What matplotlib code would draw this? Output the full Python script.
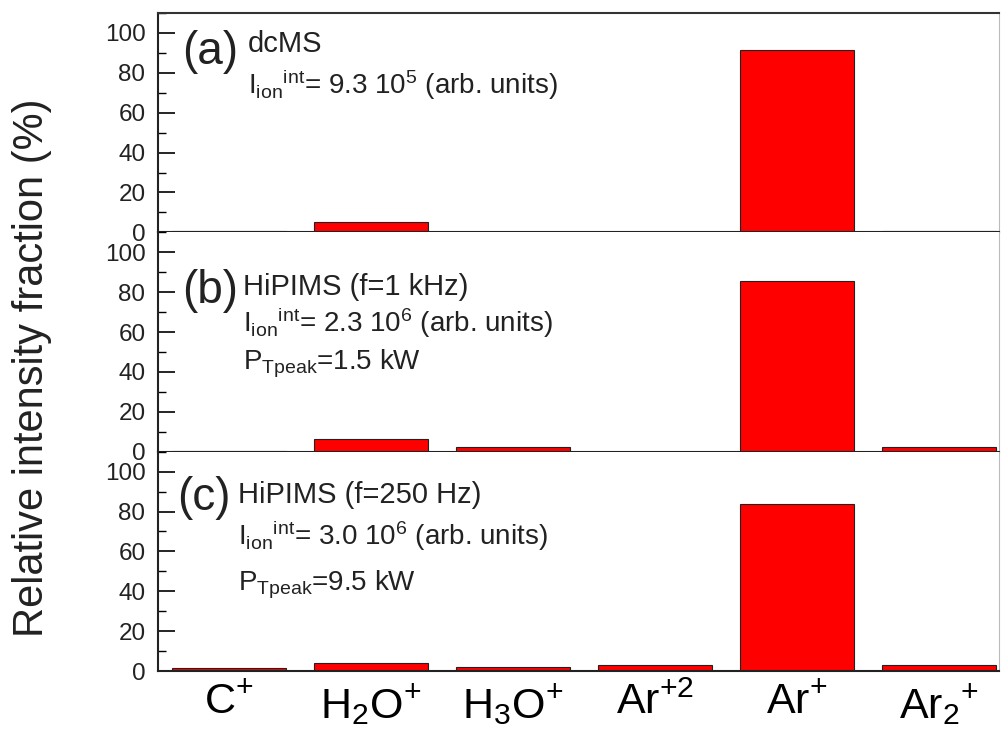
import matplotlib
matplotlib.use("Agg")
import matplotlib.pyplot as plt
from matplotlib.ticker import MultipleLocator

plt.rcParams['font.family'] = ['Liberation Sans', 'DejaVu Sans']
plt.rcParams['mathtext.fontset'] = 'custom'
plt.rcParams['mathtext.rm'] = 'Liberation Sans'
plt.rcParams['mathtext.it'] = 'Liberation Sans:italic'
plt.rcParams['mathtext.bf'] = 'Liberation Sans:bold'

categories = [r'C$^{+}$', r'H$_{2}$O$^{+}$', r'H$_{3}$O$^{+}$', r'Ar$^{+2}$', r'Ar$^{+}$', r'Ar$_{2}$$^{+}$']
dcms = [0.5, 5.0, 0.3, 0.0, 91.5, 0.5]
hipims_1khz = [0.3, 6.5, 2.5, 0.0, 85.5, 2.5]
hipims_250hz = [1.5, 4.0, 2.0, 3.0, 84.0, 3.0]

panel_labels = ['(a)', '(b)', '(c)']
panel_lines = [
    ['dcMS', r'I$_{\mathrm{ion}}$$^{\mathrm{int}}$= 9.3 10$^{5}$ (arb. units)'],
    ['HiPIMS (f=1 kHz)', r'I$_{\mathrm{ion}}$$^{\mathrm{int}}$= 2.3 10$^{6}$ (arb. units)',
     r'P$_{\mathrm{Tpeak}}$=1.5 kW'],
    ['HiPIMS (f=250 Hz)', r'I$_{\mathrm{ion}}$$^{\mathrm{int}}$= 3.0 10$^{6}$ (arb. units)',
     r'P$_{\mathrm{Tpeak}}$=9.5 kW'],
]
series = [dcms, hipims_1khz, hipims_250hz]

fig = plt.figure(figsize=(10.03, 7.49), dpi=100)
left, right = 0.1575, 0.996
bottom, top = 0.1041, 0.9826
gs = fig.add_gridspec(3, 1, left=left, right=right, bottom=bottom, top=top, hspace=0)

label_pos = [(0.0285, 0.768), (0.0285, 0.679), (0.0226, 0.734)]
line_x = [0.107, 0.101, 0.095]
line_y = [[0.821, 0.629], [0.716, 0.547, 0.374], [0.766, 0.575, 0.369]]

x = list(range(len(categories)))
for i in range(3):
    ax = fig.add_subplot(gs[i, 0])
    ax.bar(x, series[i], width=0.8, color='#ff0000', edgecolor='#222222', linewidth=0.8, zorder=2)
    ax.set_xlim(-0.5, 5.42)
    ax.set_ylim(0, 110)
    ax.yaxis.set_major_locator(MultipleLocator(20))
    ax.yaxis.set_minor_locator(MultipleLocator(10))
    ax.tick_params(axis='y', which='major', direction='in', length=12, width=1.2, labelsize=17.5, pad=9,
                   labelcolor='#222222')
    ax.tick_params(axis='y', which='minor', direction='in', length=6, width=1.0)
    ax.tick_params(axis='x', length=0, pad=8, labelsize=31)
    ax.set_xticks(x)
    if i < 2:
        ax.set_xticklabels([])
    else:
        ax.set_xticklabels(categories)
    for s in ['left', 'bottom']:
        ax.spines[s].set_linewidth(1.5)
        ax.spines[s].set_color('#222222')
    ax.spines['top'].set_linewidth(1.5 if i == 0 else 0)
    ax.spines['top'].set_color('#333333')
    ax.spines['right'].set_linewidth(0.8)
    ax.spines['right'].set_color('#bbbbbb')
    lx, ly = label_pos[i]
    ax.text(lx, ly, panel_labels[i], transform=ax.transAxes, fontsize=33, va='baseline', ha='left',
            color='#222222')
    for j, (t, yy) in enumerate(zip(panel_lines[i], line_y[i])):
        fs = 21 if j == 0 else 20
        ax.text(line_x[i], yy, t, transform=ax.transAxes, fontsize=fs, va='baseline', ha='left',
                color='#222222')

fig.text(32 / 1003, 1 - 368 / 749, 'Relative intensity fraction (%)', rotation=90,
         ha='center', va='center', fontsize=30, color='#222222')

fig.savefig('out.png', dpi=100)
